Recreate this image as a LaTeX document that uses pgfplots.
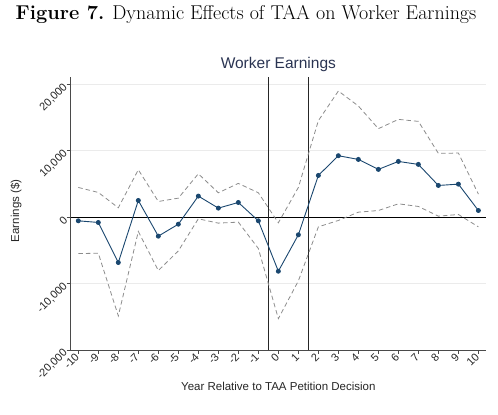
\documentclass[border=0pt]{standalone}
\usepackage{pgfplots}
\pgfplotsset{compat=1.18}
\usepackage{fontspec}
\setsansfont{Liberation Sans}
\newfontfamily\arialf{Liberation Sans}
\definecolor{stblue}{HTML}{1A476F}
\definecolor{cigray}{HTML}{8C8C8C}
\definecolor{titnavy}{HTML}{2A3452}
\definecolor{axgray}{HTML}{4A4A4A}
\begin{document}
\begin{tikzpicture}[x=1pt,y=1pt]
\path[use as bounding box] (0,0) rectangle (498,415);
\node[anchor=base, font=\fontsize{20}{22}\selectfont] at (246,395) {\textbf{Figure 7.} Dynamic Effects of TAA on Worker Earnings};
\begin{axis}[
  at={(70.7pt,65pt)}, anchor=south west,
  scale only axis, width=415.3pt, height=273pt,
  xmin=-10.38, xmax=10.38, ymin=-20000, ymax=21100,
  axis x line*=bottom, axis y line*=left,
  axis line style={axgray, line width=0.8pt},
  xtick={-10,-9,...,10}, ytick={-20000,-10000,0,10000,20000},
  tick style={axgray, line width=0.7pt},
  tick align=outside, major tick length=4pt,
  scaled y ticks=false,
  /pgf/number format/assume math mode=true,
  /pgf/number format/1000 sep={,},
  ticklabel style={font=\arialf\fontsize{11}{12}\selectfont, text=black!85},
  xticklabel style={rotate=45, anchor=east, inner sep=1.5pt},
  yticklabel style={rotate=45, anchor=east, inner sep=1.5pt},
  ymajorgrids, grid style={black!8, line width=0.8pt},
  xlabel={Year Relative to TAA Petition Decision},
  ylabel={Earnings (\$)},
  xlabel style={font=\arialf\fontsize{11.5}{13}\selectfont, text=black!85, at={(axis description cs:0.5,0)}, anchor=base, yshift=-40pt},
  ylabel style={font=\arialf\fontsize{11.5}{13}\selectfont, text=black!85, at={(axis description cs:-0.1317,0.51)}, anchor=center},
  title={Worker Earnings},
  title style={font=\arialf\fontsize{15.5}{17}\selectfont, text=titnavy, at={(axis description cs:0.5,1)}, anchor=base, yshift=2pt},
  clip=false,
]
\addplot[black, line width=0.8pt, forget plot] coordinates {(-10.38,0) (10.38,0)};
\addplot[black!85, line width=0.9pt, forget plot] coordinates {(-0.5,-20000) (-0.5,21100)};
\addplot[black!85, line width=0.9pt, forget plot] coordinates {(1.5,-20000) (1.5,21100)};
\addplot[cigray, line width=0.8pt, dash pattern=on 4.5pt off 3pt] coordinates {
(-10,4470) (-9,3720) (-8,1410) (-7,7140) (-6,2360) (-5,2860) (-4,6530) (-3,3670) (-2,5080) (-1,3670)
(0,-850) (1,4470) (2,14520) (3,18990) (4,16730) (5,13320) (6,14720) (7,14420) (8,9600) (9,9650) (10,3470)};
\addplot[cigray, line width=0.8pt, dash pattern=on 4.5pt off 3pt] coordinates {
(-10,-5480) (-9,-5430) (-8,-14870) (-7,-2160) (-6,-8040) (-5,-5080) (-4,-250) (-3,-900) (-2,-750) (-1,-4720)
(0,-15280) (1,-9600) (2,-1460) (3,-500) (4,750) (5,1000) (6,2010) (7,1610) (8,150) (9,400) (10,-1460)};
\addplot[stblue, line width=0.9pt, mark=*, mark size=2pt, mark options={fill=stblue, draw=stblue}] coordinates {
(-10,-550) (-9,-800) (-8,-6830) (-7,2510) (-6,-2860) (-5,-1060) (-4,3170) (-3,1360) (-2,2210) (-1,-550)
(0,-8140) (1,-2660) (2,6280) (3,9250) (4,8690) (5,7190) (6,8390) (7,7940) (8,4770) (9,4970) (10,1000)};
\end{axis}
\end{tikzpicture}
\end{document}
